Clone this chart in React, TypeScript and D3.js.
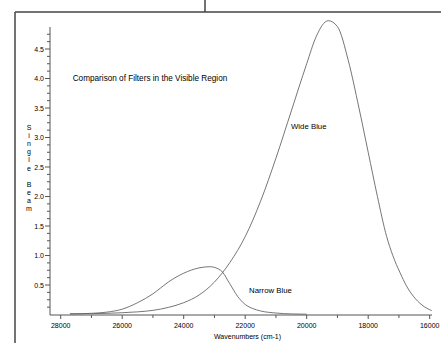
import React from "react";
import * as d3 from "d3";

const wideWavenumbers = [27700, 27000, 26500, 26000, 25500, 25000, 24500, 24000, 23500, 23000, 22500, 22000, 21500, 21000, 20500, 20000, 19700, 19300, 19000, 18650, 18300, 18000, 17700, 17400, 17200, 16966, 16750, 16533, 16250, 15935];
const wideValues = [0.01, 0.015, 0.02, 0.03, 0.045, 0.07, 0.12, 0.2, 0.33, 0.55, 0.88, 1.32, 1.92, 2.65, 3.45, 4.25, 4.7, 4.98, 4.88, 4.31, 3.5, 2.75, 2.0, 1.32, 1.0, 0.71, 0.48, 0.31, 0.16, 0.065];

const narrowWavenumbers = [27700, 27000, 26500, 26000, 25500, 25000, 24500, 24000, 23500, 23150, 22800, 22500, 22250, 22000, 21750, 21500, 21000, 20500, 20000];
const narrowValues = [0.01, 0.02, 0.04, 0.09, 0.2, 0.35, 0.55, 0.7, 0.79, 0.81, 0.75, 0.52, 0.31, 0.17, 0.1, 0.06, 0.025, 0.01, 0.005];

const xMajorTicks = [28000, 26000, 24000, 22000, 20000, 18000, 16000];
const xMinorTicks = [27000, 25000, 23000, 21000, 19000, 17000];
const yMajorTicks = [0.5, 1.0, 1.5, 2.0, 2.5, 3.0, 3.5, 4.0, 4.5];
const yLabelLetters = ["S", "i", "n", "g", "l", "e", "", "B", "e", "a", "m"];

const title = "Comparison of Filters in the Visible Region";
const xTitle = "Wavenumbers (cm-1)";

export default function App() {
  const W = 441, H = 343;
  const x = d3.scaleLinear().domain([28000, 16000]).range([60.7, 429.7]);
  const y = d3.scaleLinear().domain([0, 4.5]).range([314.5, 49]);
  const xAxisStart = 50, xAxisEnd = 432, axisY = 315, axisX = 50, yTop = 27;

  const yMinor: number[] = [];
  for (let i = 1; i <= 38; i++) {
    const v = i * 0.125;
    if (y(v) >= yTop - 0.5 && !yMajorTicks.some((m) => Math.abs(m - v) < 1e-6)) yMinor.push(v);
  }

  const line = d3
    .line<[number, number]>()
    .x((d) => x(d[0]))
    .y((d) => y(d[1]))
    .curve(d3.curveMonotoneX);

  const wide = wideWavenumbers.map((w, i) => [w, wideValues[i]] as [number, number]);
  const narrow = narrowWavenumbers.map((w, i) => [w, narrowValues[i]] as [number, number]);

  const font = "'Liberation Sans', Arial, sans-serif";
  const axisColor = "#555";

  return (
    <svg width={W} height={H} style={{ position: "absolute", left: 0, top: 0, background: "#fff" }} fontFamily={font}>
      <rect x={0} y={0} width={W} height={H} fill="#fff" />
      {/* frame */}
      <line x1={15} y1={12} x2={15} y2={H} stroke="#444" strokeWidth={1.5} />
      <line x1={15} y1={12} x2={W} y2={12} stroke="#444" strokeWidth={1.5} />
      <line x1={205} y1={0} x2={205} y2={12} stroke="#444" strokeWidth={1.5} />

      {/* y axis */}
      <line x1={axisX} y1={yTop} x2={axisX} y2={axisY} stroke={axisColor} strokeWidth={1} />
      {yMajorTicks.map((v) => (
        <g key={"ym" + v}>
          <line x1={axisX - 5} x2={axisX} y1={y(v)} y2={y(v)} stroke={axisColor} strokeWidth={1} />
          <text x={axisX - 6} y={y(v) + 2.5} fontSize={7} textAnchor="end" fill="#000">
            {v.toFixed(1)}
          </text>
        </g>
      ))}
      {yMinor.map((v) => (
        <line key={"yn" + v} x1={axisX - 3} x2={axisX} y1={y(v)} y2={y(v)} stroke={axisColor} strokeWidth={1} />
      ))}

      {/* x axis */}
      <line x1={xAxisStart} y1={axisY} x2={xAxisEnd} y2={axisY} stroke={axisColor} strokeWidth={1} />
      {xMajorTicks.map((v) => (
        <g key={"xm" + v}>
          <line x1={x(v)} x2={x(v)} y1={axisY} y2={axisY + 4} stroke={axisColor} strokeWidth={1} />
          <text x={x(v)} y={axisY + 13} fontSize={7} textAnchor="middle" fill="#000">
            {v}
          </text>
        </g>
      ))}
      {xMinorTicks.map((v) => (
        <line key={"xn" + v} x1={x(v)} x2={x(v)} y1={axisY} y2={axisY + 3} stroke={axisColor} strokeWidth={1} />
      ))}

      {/* curves */}
      <path d={line(wide) || ""} fill="none" stroke="#666" strokeWidth={0.9} />
      <path d={line(narrow) || ""} fill="none" stroke="#666" strokeWidth={0.9} />

      {/* labels */}
      <text x={72.7} y={81} fontSize={8.2} fill="#000">{title}</text>
      <text x={291} y={129} fontSize={7.8} fill="#000">Wide Blue</text>
      <text x={249} y={293} fontSize={7.8} fill="#000">Narrow Blue</text>
      <text x={214} y={339} fontSize={7} fill="#000">{xTitle}</text>
      {yLabelLetters.map((c, i) => (
        <text key={"yl" + i} x={29} y={130 + i * 8.1} fontSize={7} textAnchor="middle" fill="#000">
          {c}
        </text>
      ))}
    </svg>
  );
}
